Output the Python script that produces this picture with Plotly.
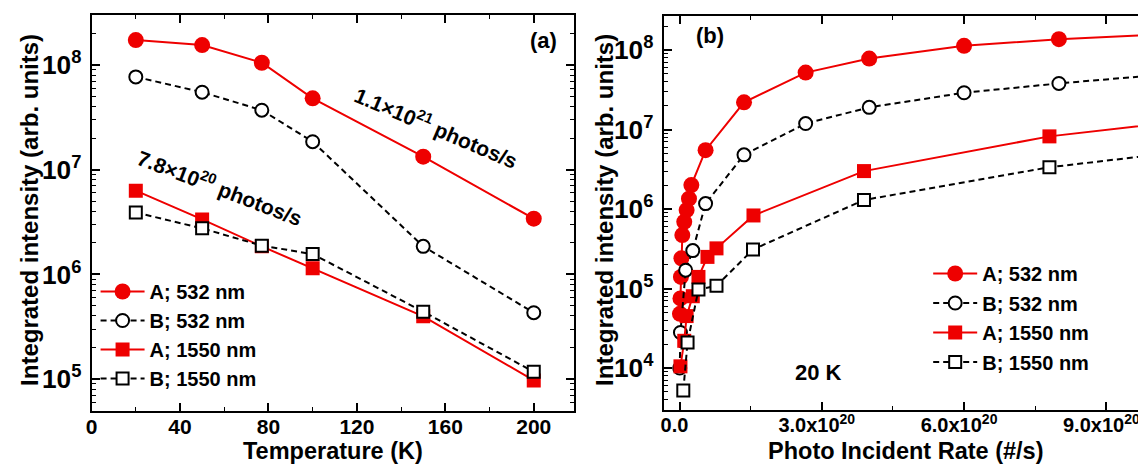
import plotly.graph_objects as go

# ---------------- data: panel (a) ----------------
temp_K = [20, 50, 77, 100, 150, 200]
a_A532 = [1.73e8, 1.55e8, 1.05e8, 4.8e7, 1.33e7, 3.4e6]
a_B532 = [7.7e7, 5.5e7, 3.7e7, 1.85e7, 1.85e6, 4.3e5]
a_A1550 = [6.3e6, 3.35e6, 1.85e6, 1.14e6, 3.97e5, 0.97e5]
a_B1550 = [3.9e6, 2.75e6, 1.88e6, 1.56e6, 4.4e5, 1.17e5]

# ---------------- data: panel (b) ----------------
b_rate_A532 = [0.01e20, 0.02e20, 0.03e20, 0.04e20, 0.06e20, 0.10e20, 0.15e20, 0.20e20,
               0.25e20, 0.55e20, 1.36e20, 2.66e20, 4.0e20, 6.0e20, 8.0e20, 10.0e20]
b_A532 = [4.8e4, 7.5e4, 1.4e5, 2.4e5, 4.7e5, 6.9e5, 9.7e5, 1.35e6,
          2.0e6, 5.5e6, 2.2e7, 5.2e7, 7.8e7, 1.13e8, 1.37e8, 1.55e8]

b_rate_B532 = [0.005e20, 0.02e20, 0.13e20, 0.28e20, 0.55e20, 1.36e20, 2.66e20,
               4.0e20, 6.0e20, 8.0e20, 10.0e20]
b_B532 = [1.0e4, 2.8e4, 1.7e5, 3.0e5, 1.17e6, 4.8e6, 1.19e7, 1.9e7, 2.9e7, 3.8e7, 4.8e7]

b_rate_A1550 = [0.02e20, 0.10e20, 0.15e20, 0.28e20, 0.40e20, 0.59e20, 0.78e20,
                1.56e20, 3.89e20, 7.8e20, 11.0e20]
b_A1550 = [1.05e4, 2.2e4, 4.5e4, 8.0e4, 1.4e5, 2.5e5, 3.2e5, 8.3e5, 3.0e6, 8.2e6, 1.35e7]

b_rate_B1550 = [0.08e20, 0.17e20, 0.40e20, 0.78e20, 1.55e20, 3.89e20, 7.8e20, 11.0e20]
b_B1550 = [5.2e3, 2.1e4, 9.7e4, 1.08e5, 3.1e5, 1.3e6, 3.35e6, 5.6e6]

series_names = ["A; 532 nm", "B; 532 nm", "A; 1550 nm", "B; 1550 nm"]

xa_ticks = [0, 40, 80, 120, 160, 200]
xb_tickvals = [0, 3e20, 6e20, 9e20]
xb_ticktext = ["0.0", "3.0x10<sup>20</sup>", "6.0x10<sup>20</sup>", "9.0x10<sup>20</sup>"]

# ---------------- styling ----------------
W, H = 1146, 468
FONT = "Liberation Sans"
RED = "#ee0000"
BLACK = "#000000"
DASH = "6px,4px"

styles = [
    dict(line=dict(color=RED, width=2), marker=dict(symbol="circle", size=16, color=RED, line=dict(width=0))),
    dict(line=dict(color=BLACK, width=2, dash=DASH),
         marker=dict(symbol="circle", size=13, color="white", line=dict(color=BLACK, width=2))),
    dict(line=dict(color=RED, width=2), marker=dict(symbol="square", size=14, color=RED, line=dict(width=0))),
    dict(line=dict(color=BLACK, width=2, dash=DASH),
         marker=dict(symbol="square", size=12, color="white", line=dict(color=BLACK, width=2))),
]

fig = go.Figure()

a_series = [a_A532, a_B532, a_A1550, a_B1550]
for i, (name, ys) in enumerate(zip(series_names, a_series)):
    fig.add_trace(go.Scatter(x=temp_K, y=ys, mode="lines+markers", name=name,
                             xaxis="x", yaxis="y", legend="legend",
                             legendgroup="a%d" % i, **styles[i]))

b_series = [(b_rate_A532, b_A532), (b_rate_B532, b_B532),
            (b_rate_A1550, b_A1550), (b_rate_B1550, b_B1550)]
for i, (name, (xs, ys)) in enumerate(zip(series_names, b_series)):
    fig.add_trace(go.Scatter(x=xs, y=ys, mode="lines+markers", name=name,
                             xaxis="x2", yaxis="y2", legend="legend2",
                             legendgroup="b%d" % i, cliponaxis=False, **styles[i]))

tickfont = dict(family=FONT, size=21, color=BLACK, weight="bold")
tickfont_b = dict(family=FONT, size=20, color=BLACK, weight="bold")
axis_base = dict(showline=True, linewidth=2, linecolor=BLACK, mirror="ticks",
                 ticks="inside", ticklen=8, tickwidth=1.5, tickcolor=BLACK,
                 showgrid=False, zeroline=False)

yminor = dict(ticks="inside", ticklen=4, tickwidth=1.2, tickcolor=BLACK, dtick="D1", showgrid=False)

legfont = dict(family=FONT, size=20, color=BLACK, weight="bold")

fig.update_layout(
    width=W, height=H,
    margin=dict(l=0, r=0, t=0, b=0),
    paper_bgcolor="white", plot_bgcolor="white",
    font=dict(family=FONT, color=BLACK),
    xaxis=dict(domain=[78 / W, 562.5 / W], range=[0, 218], anchor="y",
               tickmode="array", tickvals=xa_ticks, tickfont=tickfont,
               ticklabelstandoff=-4,
               minor=dict(ticks="inside", ticklen=4, tickwidth=1.2, tickcolor=BLACK,
                          tickmode="linear", tick0=0, dtick=20, showgrid=False),
               **axis_base),
    yaxis=dict(domain=[1 - 402.5 / H, 1 - 6.5 / H], type="log", range=[4.699, 8.4825],
               anchor="x", dtick=1, exponentformat="power", showexponent="all",
               tickfont=tickfont, ticklabelstandoff=4, minor=yminor, **axis_base),
    xaxis2=dict(domain=[653 / W, 1141 / W], range=[-0.3356e20, 9.90e20], anchor="y2",
                tickmode="array", tickvals=xb_tickvals, ticktext=xb_ticktext,
                tickfont=tickfont_b, ticklabelstandoff=-4, ticklabelshift=-5,
                minor=dict(ticks="inside", ticklen=4, tickwidth=1.2, tickcolor=BLACK,
                           tickmode="linear", tick0=0, dtick=1.5e20, showgrid=False),
                **axis_base),
    yaxis2=dict(domain=[1 - 402 / H, 1 - 8 / H], type="log", range=[3.472, 8.428],
                anchor="x2", dtick=1, exponentformat="power", showexponent="all",
                tickfont=tickfont, ticklabelstandoff=4, minor=yminor, **axis_base),
    legend=dict(x=82 / W, y=1 - 264 / H, xanchor="left", yanchor="top",
                bgcolor="rgba(0,0,0,0)", tracegroupgap=0, itemsizing="trace",
                itemwidth=44, font=legfont),
    legend2=dict(x=919 / W, y=1 - 246 / H, xanchor="left", yanchor="top",
                 bgcolor="rgba(0,0,0,0)", tracegroupgap=0.5, itemsizing="trace",
                 itemwidth=44, font=legfont),
)

# axis titles
title_font = dict(family=FONT, size=23.5, color=BLACK, weight="bold")
ytitle_font = dict(family=FONT, size=24, color=BLACK, weight="bold")
fig.add_annotation(text="Temperature (K)", x=0.5, y=1 - 443 / H, xref="x domain", yref="paper",
                   xanchor="center", yanchor="middle", showarrow=False, font=title_font)
fig.add_annotation(text="Photo Incident Rate (#/s)", x=0.5, y=1 - 443 / H, xref="x2 domain",
                   yref="paper", xanchor="center", yanchor="middle", showarrow=False,
                   font=title_font)
fig.add_annotation(text="Integrated intensity (arb. units)", x=15 / W, y=1 - 202 / H,
                   xref="paper", yref="paper", textangle=-90, xanchor="center",
                   yanchor="middle", showarrow=False, font=ytitle_font)
fig.add_annotation(text="Integrated intensity (arb. units)", x=593 / W, y=1 - 202 / H,
                   xref="paper", yref="paper", textangle=-90, xanchor="center",
                   yanchor="middle", showarrow=False, font=ytitle_font)

ann_font = dict(family=FONT, size=22, color=BLACK, weight="bold")
rot_font = dict(family=FONT, size=21, color=BLACK, weight="bold")
fig.add_annotation(text="(a)", x=0.970, y=0.935, xref="x domain", yref="y domain",
                   xanchor="right", yanchor="middle", showarrow=False, font=ann_font)
fig.add_annotation(text="(b)", x=0.062, y=0.95, xref="x2 domain", yref="y2 domain",
                   xanchor="left", yanchor="middle", showarrow=False, font=ann_font)
fig.add_annotation(text="20 K", x=0.32, y=0.095, xref="x2 domain", yref="y2 domain",
                   xanchor="center", yanchor="middle", showarrow=False, font=ann_font)
fig.add_annotation(text="1.1×10<sup>21</sup> photos/s", x=0.716, y=0.715,
                   xref="x domain", yref="y domain", textangle=23,
                   xanchor="center", yanchor="middle",
                   showarrow=False, font=rot_font)
fig.add_annotation(text="7.8×10<sup>20</sup> photos/s", x=0.267, y=0.565,
                   xref="x domain", yref="y domain", textangle=21,
                   xanchor="center", yanchor="middle",
                   showarrow=False, font=rot_font)

fig.write_html("out.html")
